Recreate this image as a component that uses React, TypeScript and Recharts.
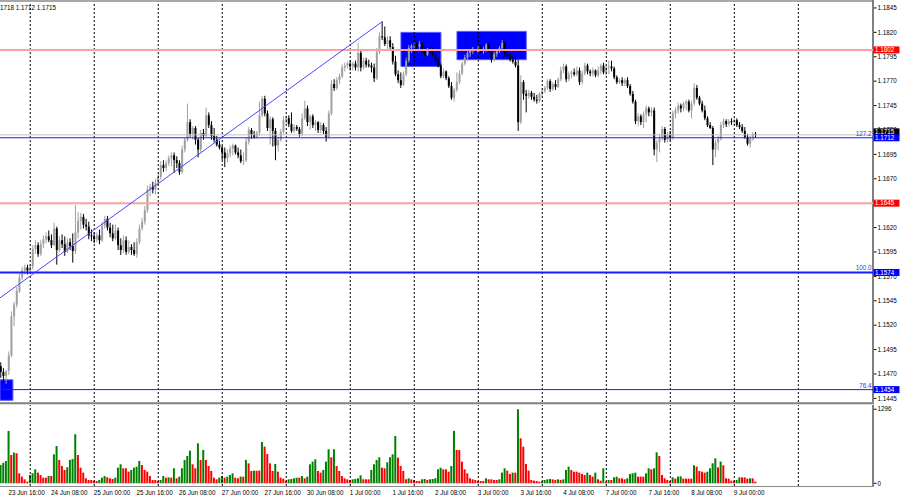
import React from 'react';
import { ComposedChart, Bar, XAxis, YAxis, ReferenceLine, ReferenceArea, Cell } from 'recharts';

const open = [
1.1478,1.1472,1.1468,1.1473,1.1489,1.1529,1.1541,1.1555,1.1569,1.1576,
1.1579,1.1576,1.158,1.1598,1.1602,1.1593,1.1603,1.1608,1.1611,1.1607,
1.1602,1.1619,1.1597,1.1607,1.1603,1.1595,1.1605,1.1601,1.1596,1.1615,
1.1627,1.1631,1.1623,1.1621,1.1612,1.1611,1.1608,1.1612,1.1607,1.1622,
1.1629,1.162,1.1614,1.1609,1.1617,1.1602,1.1597,1.1607,1.1595,1.16,
1.1597,1.1593,1.1605,1.1619,1.1626,1.1638,1.1659,1.1662,1.1659,1.1666,
1.1672,1.1684,1.1681,1.1686,1.1691,1.1694,1.1689,1.1686,1.1677,1.17,
1.171,1.1728,1.1716,1.1722,1.171,1.17,1.1717,1.1714,1.1735,1.1725,
1.1714,1.171,1.1705,1.1702,1.1697,1.1691,1.1696,1.1701,1.1704,1.1697,
1.1694,1.1688,1.1689,1.1708,1.172,1.1715,1.1713,1.1717,1.1735,1.1752,
1.1737,1.1722,1.1731,1.1719,1.1704,1.171,1.1718,1.173,1.1732,1.1726,
1.1719,1.1723,1.1721,1.1716,1.1732,1.1742,1.1728,1.1734,1.1725,1.1728,
1.172,1.1725,1.1719,1.1713,1.1737,1.1767,1.1763,1.1771,1.1775,1.1784,
1.1786,1.1788,1.1785,1.1788,1.1784,1.1799,1.1784,1.1791,1.1787,1.1786,
1.1784,1.1773,1.18,1.1816,1.1815,1.1808,1.1812,1.1805,1.179,1.1777,
1.1771,1.1766,1.1777,1.1791,1.1804,1.1806,1.1807,1.1805,1.1808,1.1801,
1.1797,1.1802,1.18,1.1797,1.1791,1.1786,1.1775,1.178,1.1773,1.1765,
1.1753,1.1761,1.1769,1.1778,1.1788,1.1794,1.1799,1.1801,1.1803,1.18,
1.1804,1.1802,1.1803,1.1807,1.1802,1.1792,1.1798,1.1801,1.1804,1.1809,
1.1798,1.1796,1.1792,1.179,1.1786,1.1728,1.1769,1.1757,1.1755,1.1758,
1.1754,1.1751,1.175,1.1757,1.176,1.1763,1.177,1.1762,1.1767,1.1764,
1.1772,1.1781,1.1785,1.1772,1.1777,1.1779,1.1777,1.1781,1.1769,1.1778,
1.1786,1.178,1.1778,1.1781,1.1776,1.1781,1.1786,1.1779,1.1784,1.1785,
1.1783,1.1774,1.1769,1.1771,1.1768,1.1771,1.1765,1.1757,1.1749,1.1729,
1.1734,1.1728,1.1736,1.1742,1.1738,1.174,1.17,1.1707,1.1712,1.1721,
1.171,1.1715,1.1712,1.1737,1.174,1.1745,1.1742,1.1747,1.1749,1.174,
1.1747,1.1763,1.1753,1.1747,1.174,1.1732,1.1725,1.1722,1.17,1.1707,
1.1711,1.1725,1.1729,1.1726,1.1729,1.1728,1.173,1.1725,1.1723,1.1719,
1.1713,1.1706,1.1711,1.1716];

const high = [
1.1482,1.1476,1.1474,1.1493,1.1534,1.1544,1.1559,1.1573,1.158,1.1582,
1.1582,1.1583,1.1602,1.1607,1.1605,1.1607,1.1612,1.1615,1.1617,1.1613,
1.1625,1.1621,1.1611,1.1613,1.1611,1.1609,1.1609,1.1614,1.1643,1.1636,
1.1635,1.1634,1.1629,1.1626,1.1618,1.1615,1.1615,1.1618,1.1626,1.1632,
1.1632,1.1625,1.1623,1.1623,1.162,1.1609,1.1612,1.1611,1.1607,1.1603,
1.1605,1.1609,1.1623,1.163,1.1642,1.1663,1.1665,1.1667,1.167,1.1676,
1.1688,1.1689,1.1689,1.1694,1.1697,1.1697,1.1693,1.1689,1.1704,1.1712,
1.1747,1.1731,1.1724,1.1724,1.1712,1.172,1.1721,1.1743,1.1738,1.1729,
1.1722,1.1714,1.1709,1.1704,1.1702,1.17,1.1704,1.1706,1.1705,1.1702,
1.17,1.1697,1.1712,1.1723,1.1722,1.1719,1.1719,1.1749,1.1755,1.1755,
1.174,1.1734,1.1733,1.1722,1.1713,1.1721,1.1734,1.1735,1.1735,1.1738,
1.1726,1.1725,1.1723,1.1737,1.175,1.1745,1.1736,1.1736,1.173,1.1729,
1.1728,1.1727,1.1723,1.174,1.1771,1.1772,1.1774,1.1778,1.1787,1.1789,
1.179,1.1791,1.179,1.1791,1.1809,1.1801,1.1794,1.1794,1.1792,1.1789,
1.1788,1.1804,1.182,1.1831,1.1826,1.1816,1.1816,1.1809,1.1796,1.1781,
1.1779,1.178,1.1794,1.1807,1.1808,1.1809,1.181,1.1811,1.181,1.1805,
1.1804,1.1805,1.1804,1.1799,1.1794,1.1788,1.1783,1.1781,1.1775,1.1769,
1.1763,1.1779,1.1781,1.179,1.1797,1.1801,1.1803,1.1805,1.1806,1.1806,
1.1807,1.1805,1.1809,1.1809,1.1804,1.18,1.1803,1.1806,1.1812,1.181,
1.1802,1.1799,1.1796,1.1795,1.1792,1.1776,1.1771,1.1761,1.1761,1.176,
1.1758,1.1756,1.1759,1.1763,1.1765,1.1772,1.1772,1.1769,1.1771,1.1774,
1.1785,1.1788,1.1787,1.178,1.1781,1.1783,1.1785,1.1784,1.1781,1.1789,
1.1788,1.1782,1.1784,1.1782,1.1785,1.1788,1.1789,1.1788,1.1791,1.1791,
1.1785,1.1776,1.1773,1.1774,1.1773,1.1774,1.1767,1.176,1.1751,1.1737,
1.1736,1.1739,1.1745,1.1744,1.1743,1.1743,1.171,1.1716,1.1724,1.1723,
1.1718,1.1719,1.174,1.1743,1.1748,1.1747,1.1749,1.1751,1.1751,1.175,
1.1768,1.1766,1.1755,1.175,1.1745,1.1734,1.1728,1.1724,1.171,1.1714,
1.1728,1.1732,1.1731,1.1731,1.1732,1.1732,1.1732,1.1728,1.1726,1.1723,
1.1716,1.1714,1.1718,1.1718];

const low = [
1.1466,1.1461,1.146,1.1469,1.1487,1.1519,1.1538,1.1553,1.1566,1.1572,
1.1572,1.1573,1.1577,1.1593,1.159,1.1591,1.1599,1.1604,1.1605,1.1599,
1.1601,1.1582,1.1595,1.1599,1.1591,1.1594,1.1597,1.1584,1.1593,1.1609,
1.1618,1.1619,1.1617,1.1608,1.1606,1.1604,1.1605,1.1603,1.1605,1.1619,
1.1617,1.161,1.1606,1.1607,1.1597,1.1592,1.1594,1.1592,1.1593,1.1592,
1.1591,1.1589,1.1603,1.1617,1.1623,1.1635,1.1652,1.1655,1.1654,1.1663,
1.1669,1.1677,1.1678,1.1683,1.1683,1.1676,1.1681,1.1674,1.1675,1.1697,
1.1708,1.1713,1.171,1.1705,1.1692,1.1697,1.171,1.1712,1.1722,1.171,
1.1707,1.1703,1.17,1.1689,1.1682,1.1687,1.1692,1.1694,1.1695,1.1691,
1.1686,1.1684,1.1687,1.1705,1.1711,1.1711,1.1711,1.1714,1.1733,1.1734,
1.1719,1.1705,1.1703,1.1689,1.1698,1.1708,1.1716,1.1726,1.1723,1.1717,
1.1717,1.1719,1.1713,1.1714,1.173,1.1724,1.172,1.1722,1.1719,1.1717,
1.1717,1.1716,1.1708,1.1711,1.1735,1.176,1.1761,1.1767,1.1773,1.178,
1.1783,1.1781,1.1781,1.1781,1.178,1.178,1.1782,1.1784,1.1784,1.1779,
1.1769,1.1771,1.1798,1.1812,1.1806,1.1803,1.1802,1.1787,1.1775,1.1768,
1.1763,1.1765,1.1775,1.1789,1.1799,1.1802,1.1802,1.1802,1.1799,1.1795,
1.1796,1.1798,1.1795,1.1789,1.1784,1.1773,1.1773,1.1771,1.1763,1.1751,
1.1749,1.1759,1.1767,1.1776,1.1786,1.1791,1.1795,1.1798,1.1797,1.1798,
1.1799,1.1798,1.18,1.18,1.1789,1.179,1.1795,1.1799,1.1802,1.1795,
1.1794,1.179,1.1788,1.1784,1.1719,1.1726,1.1751,1.1738,1.1752,1.1751,
1.1749,1.1747,1.1748,1.1754,1.1758,1.1761,1.1759,1.176,1.1761,1.1763,
1.177,1.1778,1.1769,1.177,1.1773,1.1775,1.1775,1.1766,1.1767,1.1776,
1.1777,1.1775,1.1775,1.1774,1.1774,1.1777,1.1777,1.1776,1.1777,1.178,
1.1772,1.1767,1.1767,1.1765,1.1765,1.1763,1.1755,1.1747,1.1726,1.1724,
1.1725,1.1722,1.1728,1.1734,1.1734,1.1694,1.1687,1.1697,1.1709,1.1707,
1.1707,1.1709,1.171,1.1732,1.1737,1.1738,1.1739,1.174,1.1738,1.1732,
1.1745,1.1751,1.1745,1.1738,1.173,1.1723,1.1721,1.1684,1.1692,1.1699,
1.1709,1.1722,1.1723,1.1724,1.1725,1.1724,1.1723,1.1721,1.1717,1.1711,
1.1704,1.1702,1.1709,1.1712];

const close = [
1.1472,1.1468,1.1473,1.1489,1.1529,1.1541,1.1555,1.1569,1.1576,1.1579,
1.1576,1.158,1.1598,1.1602,1.1593,1.1603,1.1608,1.1611,1.1607,1.1602,
1.1619,1.1597,1.1607,1.1603,1.1595,1.1605,1.1601,1.1596,1.1615,1.1627,
1.1631,1.1623,1.1621,1.1612,1.1611,1.1608,1.1612,1.1607,1.1622,1.1629,
1.162,1.1614,1.1609,1.1617,1.1602,1.1597,1.1607,1.1595,1.16,1.1597,
1.1593,1.1605,1.1619,1.1626,1.1638,1.1659,1.1662,1.1659,1.1666,1.1672,
1.1684,1.1681,1.1686,1.1691,1.1694,1.1689,1.1686,1.1677,1.17,1.171,
1.1728,1.1716,1.1722,1.171,1.17,1.1717,1.1714,1.1735,1.1725,1.1714,
1.171,1.1705,1.1702,1.1697,1.1691,1.1696,1.1701,1.1704,1.1697,1.1694,
1.1688,1.1689,1.1708,1.172,1.1715,1.1713,1.1717,1.1735,1.1752,1.1737,
1.1722,1.1731,1.1719,1.1704,1.171,1.1718,1.173,1.1732,1.1726,1.1719,
1.1723,1.1721,1.1716,1.1732,1.1742,1.1728,1.1734,1.1725,1.1728,1.172,
1.1725,1.1719,1.1713,1.1737,1.1767,1.1763,1.1771,1.1775,1.1784,1.1786,
1.1788,1.1785,1.1788,1.1784,1.1799,1.1784,1.1791,1.1787,1.1786,1.1784,
1.1773,1.18,1.1816,1.1815,1.1808,1.1812,1.1805,1.179,1.1777,1.1771,
1.1766,1.1777,1.1791,1.1804,1.1806,1.1807,1.1805,1.1808,1.1801,1.1797,
1.1802,1.18,1.1797,1.1791,1.1786,1.1775,1.178,1.1773,1.1765,1.1753,
1.1761,1.1769,1.1778,1.1788,1.1794,1.1799,1.1801,1.1803,1.18,1.1804,
1.1802,1.1803,1.1807,1.1802,1.1792,1.1798,1.1801,1.1804,1.1809,1.1798,
1.1796,1.1792,1.179,1.1786,1.1728,1.1769,1.1757,1.1755,1.1758,1.1754,
1.1751,1.175,1.1757,1.176,1.1763,1.177,1.1762,1.1767,1.1764,1.1772,
1.1781,1.1785,1.1772,1.1777,1.1779,1.1777,1.1781,1.1769,1.1778,1.1786,
1.178,1.1778,1.1781,1.1776,1.1781,1.1786,1.1779,1.1784,1.1785,1.1783,
1.1774,1.1769,1.1771,1.1768,1.1771,1.1765,1.1757,1.1749,1.1729,1.1734,
1.1728,1.1736,1.1742,1.1738,1.174,1.17,1.1707,1.1712,1.1721,1.171,
1.1715,1.1712,1.1737,1.174,1.1745,1.1742,1.1747,1.1749,1.174,1.1747,
1.1763,1.1753,1.1747,1.174,1.1732,1.1725,1.1722,1.17,1.1707,1.1711,
1.1725,1.1729,1.1726,1.1729,1.1728,1.173,1.1725,1.1723,1.1719,1.1713,
1.1706,1.1711,1.1716,1.1715];

const volume = [
321,362,391,917,496,537,526,175,117,70,
29,146,175,245,187,146,99,99,128,128,
508,654,409,304,234,280,409,426,859,496,
274,187,88,58,58,47,41,58,99,128,
105,88,76,99,274,333,263,263,204,234,
274,292,391,321,234,204,128,58,58,41,
58,128,99,105,99,263,88,117,263,409,
479,572,333,263,700,409,584,409,304,216,
99,70,99,128,99,117,146,175,99,88,
117,117,409,350,216,222,222,222,724,642,
514,350,216,339,204,99,82,47,70,76,
88,99,99,128,88,117,333,380,420,216,
187,234,380,596,456,596,304,216,128,88,
70,58,70,76,88,140,70,70,70,234,
333,409,456,274,263,368,456,508,829,450,
304,216,70,88,70,58,41,41,70,76,
58,70,76,88,245,274,245,245,204,304,
917,584,584,380,245,175,88,70,58,41,
41,41,88,70,70,58,58,70,187,263,
222,164,187,187,1296,788,642,339,222,58,
47,41,29,35,58,70,76,70,58,70,
58,70,234,292,234,204,204,187,164,146,
187,146,117,187,70,47,263,29,58,58,
105,117,88,88,70,88,164,175,187,117,
117,117,175,263,245,263,543,479,146,88,
58,41,105,82,117,123,82,82,82,82,
315,292,216,204,187,204,263,350,438,280,
380,315,88,82,47,47,58,105,105,105,
82,88,88,29];

const dayStartBars = [11, 35, 59, 83, 107, 131, 155, 179, 203, 227, 251, 275, 299];
const timeLabelBars = [3, 19, 35, 51, 67, 83, 99, 115, 131, 147, 163, 179, 195, 211, 227, 243, 259, 275];
const timeLabels = ['23 Jun 16:00', '24 Jun 08:00', '25 Jun 00:00', '25 Jun 16:00', '26 Jun 08:00', '27 Jun 00:00',
  '27 Jun 16:00', '30 Jun 08:00', '1 Jul 00:00', '1 Jul 16:00', '2 Jul 08:00', '3 Jul 00:00', '3 Jul 16:00',
  '4 Jul 08:00', '7 Jul 00:00', '7 Jul 16:00', '8 Jul 08:00', '9 Jul 00:00'];
const priceTicks = [1.1445, 1.147, 1.1495, 1.152, 1.1545, 1.157, 1.1595, 1.162, 1.1645, 1.167, 1.1695, 1.172,
  1.1745, 1.177, 1.1795, 1.182, 1.1845];
const volumeTicks = [0, 1296];
const redLevels = [1.1802, 1.1645];
const fibLevels = [1.1712, 1.1574, 1.1454];
const fibNames = ['127.2', '100.0', '76.4'];
const fibWidths = [1, 2, 1];
const bidPrice = 1.1715;
const trendBars = [-0.33, 143];
const trendPrices = [1.1548, 1.1831];
const zoneBars = [[-0.33, 4.5], [150, 165], [171, 197]];
const zonePrices = [[1.1443, 1.1464], [1.1785, 1.182], [1.1792, 1.1821]];
const headerText = '1718 1.1712 1.1715';

const X_DOMAIN = [-0.3375, 327];
const PRICE_DOMAIN = [1.14413, 1.18511];
const VOL_DOMAIN = [-47, 1371];
const FONT = '"Liberation Sans", Arial, sans-serif';
const FS = 6.3;
const BULL = '#a0a0a0';
const BEAR = '#000000';
const GREEN = '#008000';
const RED = '#ff0000';

const bars = close.map((c, i) => ({ i, o: open[i], h: high[i], l: low[i], c, range: [low[i], high[i]] }));
const volData = volume.map((v, i) => ({ i, v, up: i === 0 || v > volume[i - 1] }));

const Candle = (props: any) => {
  const { x, y, width, height, payload } = props;
  if (!payload || payload.h == null) return null;
  const cx = x + width / 2;
  const top = Math.min(y, y + height);
  const bot = Math.max(y, y + height);
  const span = payload.h - payload.l;
  const k = span > 0 ? (bot - top) / span : 0;
  const yO = top + (payload.h - payload.o) * k;
  const yC = top + (payload.h - payload.c) * k;
  const col = payload.c >= payload.o ? BULL : BEAR;
  const bTop = Math.min(yO, yC);
  const bH = Math.max(Math.abs(yC - yO), 1);
  return (
    <g>
      <line x1={cx} x2={cx} y1={top} y2={Math.max(bot, top + 1)} stroke={col} strokeWidth={1} />
      <rect x={cx - 1} y={bTop} width={2} height={bH} fill={col} />
    </g>
  );
};

const PriceTick = (props: any) => {
  const { x, y, payload } = props;
  return (
    <g>
      <line x1={x + 1} x2={x + 3.5} y1={y} y2={y} stroke="#000" strokeWidth={1} />
      <text x={x + 4.5} y={y + 2.2} fontSize={FS} fill="#000" fontFamily={FONT}>{Number(payload.value).toFixed(4)}</text>
    </g>
  );
};

const VolTick = (props: any) => {
  const { x, y, payload } = props;
  return (
    <g>
      <line x1={x + 1} x2={x + 3.5} y1={y} y2={y} stroke="#000" strokeWidth={1} />
      <text x={x + 4.5} y={y + 2.2} fontSize={FS} fill="#000" fontFamily={FONT}>{String(payload.value)}</text>
    </g>
  );
};

const TimeTick = (props: any) => {
  const { x, y, payload } = props;
  const idx = timeLabelBars.indexOf(payload.value);
  return (
    <text x={x - 0.5} y={y + 8.5} fontSize={FS} fill="#000" fontFamily={FONT}>{timeLabels[idx]}</text>
  );
};

const AxisTag = (props: any) => {
  const { viewBox, text, bg, fib, fibColor, dy = 0 } = props;
  if (!viewBox) return null;
  const right = viewBox.x + viewBox.width;
  const y = viewBox.y + dy;
  return (
    <g>
      {fib ? <text x={right - 1.5} y={viewBox.y - 2} textAnchor="end" fontSize={FS} fill={fibColor} fontFamily={FONT}>{fib}</text> : null}
      <rect x={right + 0.5} y={y - 3.5} width={26} height={7} fill={bg} />
      <text x={right + 2} y={y + 2.3} fontSize={FS} fill="#fff" fontFamily={FONT}>{text}</text>
    </g>
  );
};

export default function App() {
  return (
    <div style={{ position: 'absolute', left: 0, top: 0, width: 900, height: 500, background: '#fff', overflow: 'hidden', fontFamily: FONT }}>
      <div style={{ position: 'absolute', left: 0, top: 0 }}>
        <ComposedChart width={900} height={404} data={bars} margin={{ top: 2, right: 0, bottom: 2, left: 0 }}>
          <XAxis type="number" dataKey="i" domain={X_DOMAIN} allowDataOverflow hide />
          <YAxis orientation="right" width={27} type="number" domain={PRICE_DOMAIN} allowDataOverflow
            ticks={priceTicks} interval={0} tick={<PriceTick />} tickLine={false} tickSize={0} tickMargin={0}
            axisLine={{ stroke: '#7f7f7f', strokeWidth: 2 }} />
          {zoneBars.map((zb, k) => (
            <ReferenceArea key={'z' + k} x1={zb[0]} x2={zb[1]} y1={zonePrices[k][0]} y2={zonePrices[k][1]}
              fill="#0000ff" fillOpacity={1} stroke="#5a5aff" strokeWidth={1} />
          ))}
          {dayStartBars.map((b) => (
            <ReferenceLine key={'d' + b} x={b} stroke="#000" strokeWidth={1} strokeDasharray="2 2" />
          ))}
          <Bar dataKey="range" barSize={3} shape={<Candle />} isAnimationActive={false} />
        </ComposedChart>
      </div>
      <div style={{ position: 'absolute', left: 0, top: 0 }}>
        <ComposedChart width={900} height={404} data={bars} margin={{ top: 2, right: 27, bottom: 2, left: 0 }}>
          <XAxis type="number" dataKey="i" domain={X_DOMAIN} allowDataOverflow hide />
          <YAxis type="number" domain={PRICE_DOMAIN} allowDataOverflow hide />
          {redLevels.map((p) => (
            <ReferenceLine key={'r' + p} y={p} stroke="#ffa0a0" strokeWidth={2}
              label={<AxisTag text={p.toFixed(4)} bg="#ff0000" />} />
          ))}
          <ReferenceLine y={bidPrice} stroke="#c0c0c0" strokeWidth={1}
            label={<AxisTag text={bidPrice.toFixed(4)} bg="#000000" dy={-3} />} />
          {fibLevels.map((p, k) => (
            <ReferenceLine key={'f' + p} y={p} stroke="#1a1aff" strokeWidth={fibWidths[k]}
              label={<AxisTag text={p.toFixed(4)} bg="#0000ff" fib={fibNames[k]} fibColor="#3030ff" />} />
          ))}
          <ReferenceLine segment={[{ x: trendBars[0], y: trendPrices[0] }, { x: trendBars[1], y: trendPrices[1] }]}
            stroke="#4848ff" strokeWidth={1} />
        </ComposedChart>
      </div>
      <div style={{ position: 'absolute', left: 0, top: 404 }}>
        <ComposedChart width={900} height={96} data={volData} margin={{ top: 1, right: 0, bottom: 0, left: 0 }}>
          <XAxis type="number" dataKey="i" domain={X_DOMAIN} allowDataOverflow ticks={timeLabelBars} interval={0}
            tick={<TimeTick />} tickLine={false} tickSize={0} tickMargin={0} axisLine={false} height={14} />
          <YAxis orientation="right" width={27} type="number" domain={VOL_DOMAIN} allowDataOverflow
            ticks={volumeTicks} interval={0} tick={<VolTick />} tickLine={false} tickSize={0} tickMargin={0}
            axisLine={{ stroke: '#7f7f7f', strokeWidth: 2 }} />
          {dayStartBars.map((b) => (
            <ReferenceLine key={'vd' + b} x={b} stroke="#000" strokeWidth={1} strokeDasharray="2 2" />
          ))}
          <Bar dataKey="v" barSize={2} isAnimationActive={false}>
            {volData.map((d) => <Cell key={d.i} fill={d.up ? GREEN : RED} />)}
          </Bar>
        </ComposedChart>
      </div>
      <svg width={900} height={500} style={{ position: 'absolute', left: 0, top: 0, pointerEvents: 'none' }}>
        <line x1={0} x2={874} y1={1} y2={1} stroke="#505050" strokeWidth={1.2} />
        <line x1={873} x2={873} y1={0} y2={3} stroke="#7f7f7f" strokeWidth={2} />
        <line x1={0} x2={874} y1={403.2} y2={403.2} stroke="#7f7f7f" strokeWidth={2} />
        <line x1={0} x2={874} y1={486.5} y2={486.5} stroke="#8a8a8a" strokeWidth={1} />
        <text x={0} y={9.5} fontSize={FS} fill="#000" fontFamily={FONT}>{headerText}</text>
      </svg>
    </div>
  );
}
